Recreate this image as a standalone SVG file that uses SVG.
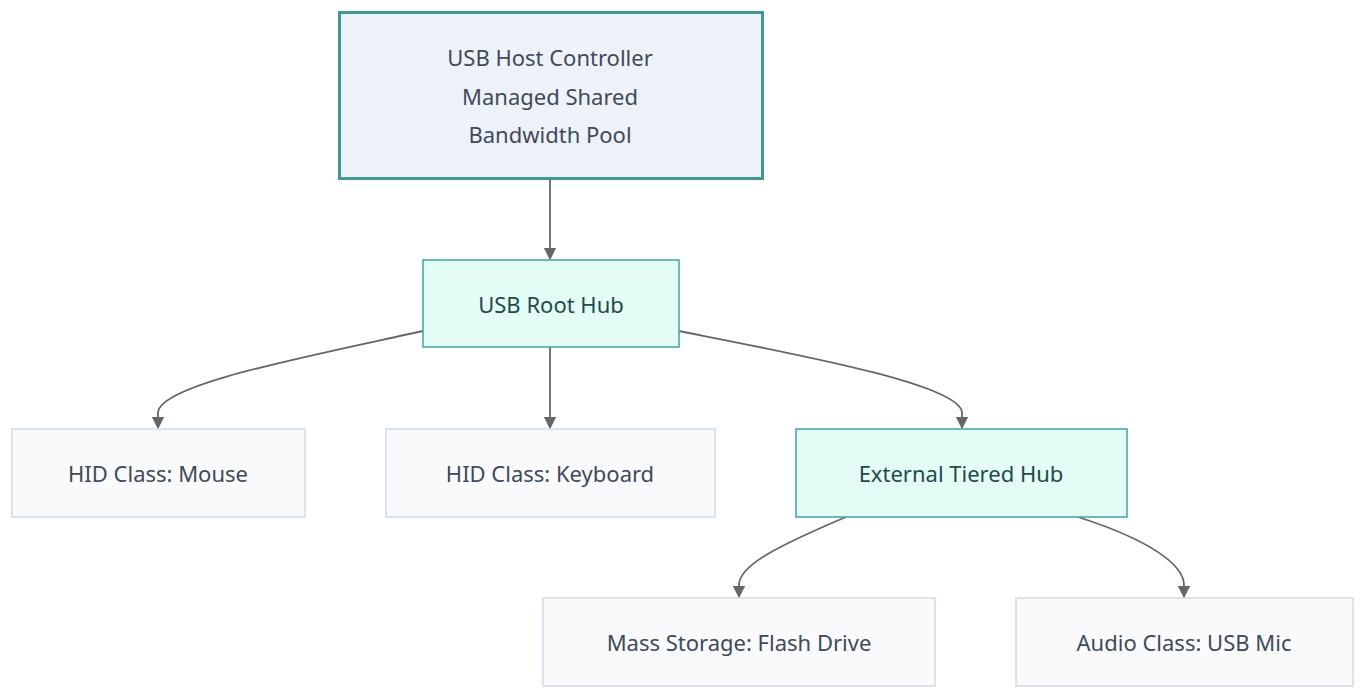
<svg xmlns="http://www.w3.org/2000/svg" width="1366" height="699" viewBox="0 0 1366 699">
<style>
text{font-family:"Noto Sans","Open Sans",sans-serif;font-size:22px;text-anchor:middle;dominant-baseline:central;fill:#3f4a5a}
.leaf rect{fill:#f8fafc;stroke:#cfdbe6;stroke-width:1.5}
.hub rect{fill:#e3fcf6;stroke:#3aa69c;stroke-width:1.5}
.hub text{fill:#1f4b4b}
.e{fill:none;stroke:#666;stroke-width:1.8;marker-end:url(#a)}
</style>
<defs><marker id="a" viewBox="0 0 10 10" refX="9" refY="5" markerWidth="7" markerHeight="7" orient="auto-start-reverse" markerUnits="strokeWidth"><path d="M0,0L10,5L0,10z" fill="#666"/></marker></defs>
<g id="connectors">
<path class="e" d="M550,179V259"/>
<path class="e" d="M423,331C300,358 158,385 158,413V428"/>
<path class="e" d="M550,347V428"/>
<path class="e" d="M679,331C800,355 962,385 962,413V428"/>
<path class="e" d="M846,517C780,545 739,565 739,585V597"/>
<path class="e" d="M1078,517C1150,540 1184,565 1184,585V597"/>
</g>
<g id="host"><rect x="339.5" y="12.5" width="423" height="166" fill="#edf2f8" stroke="#3a9a94" stroke-width="3"/><text x="550" y="57" fill="#2d3748">USB Host Controller</text><text x="550" y="96" fill="#2d3748">Managed Shared</text><text x="550" y="134" fill="#2d3748">Bandwidth Pool</text></g>
<g id="root" class="hub"><rect x="423" y="260" width="256" height="87"/><text x="551" y="304">USB Root Hub</text></g>
<g id="mouse" class="leaf"><rect x="12" y="429" width="293" height="88"/><text x="158" y="473">HID Class: Mouse</text></g>
<g id="keyboard" class="leaf"><rect x="386" y="429" width="329" height="88"/><text x="550" y="473">HID Class: Keyboard</text></g>
<g id="ext" class="hub"><rect x="796" y="429" width="331" height="88"/><text x="961" y="473">External Tiered Hub</text></g>
<g id="mass" class="leaf"><rect x="543" y="598" width="392" height="88"/><text x="739" y="642">Mass Storage: Flash Drive</text></g>
<g id="audio" class="leaf"><rect x="1016" y="598" width="337" height="88"/><text x="1184" y="642">Audio Class: USB Mic</text></g>
</svg>
